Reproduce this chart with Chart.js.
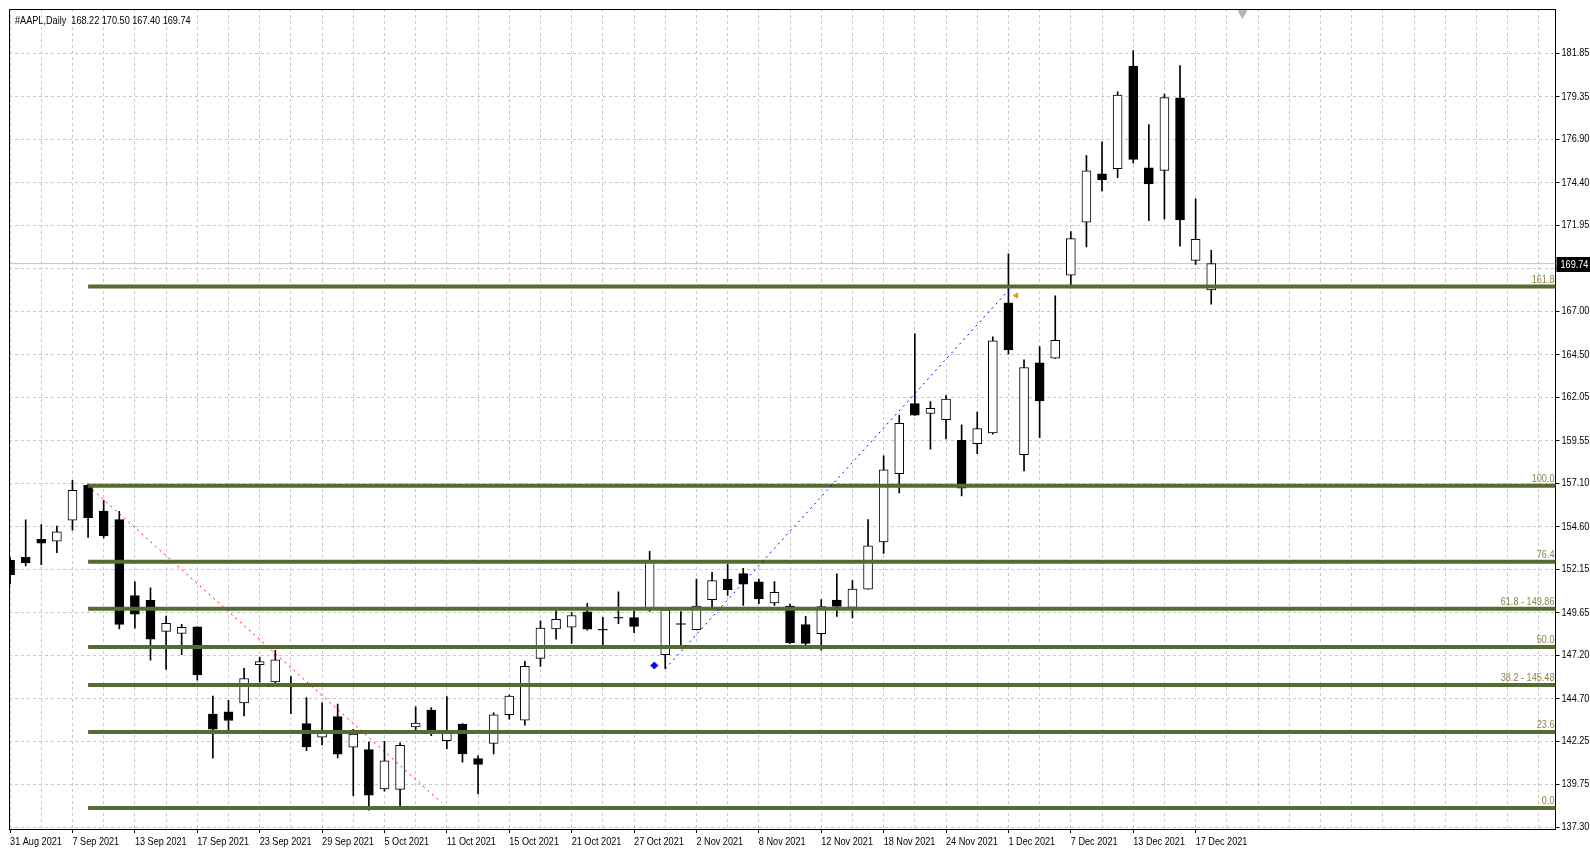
<!DOCTYPE html>
<html>
<head>
<meta charset="utf-8">
<script src="https://cdn.jsdelivr.net/npm/chart.js@4.4.0/dist/chart.umd.min.js"></script>
<style>
    html, body { margin: 0; padding: 0; background: #fff; overflow: hidden; }
    canvas { display: block; }
</style>
</head>
<body>
<canvas id="chart" width="1590" height="852"></canvas>
<script>
// AAPL daily bars, 31 Aug 2021 - 20 Dec 2021
const dates = [
    '31 Aug 2021', '1 Sep 2021', '2 Sep 2021', '3 Sep 2021', '7 Sep 2021', '8 Sep 2021', '9 Sep 2021', '10 Sep 2021',
    '13 Sep 2021', '14 Sep 2021', '15 Sep 2021', '16 Sep 2021', '17 Sep 2021', '20 Sep 2021', '21 Sep 2021', '22 Sep 2021',
    '23 Sep 2021', '24 Sep 2021', '27 Sep 2021', '28 Sep 2021', '29 Sep 2021', '30 Sep 2021', '1 Oct 2021', '4 Oct 2021',
    '5 Oct 2021', '6 Oct 2021', '7 Oct 2021', '8 Oct 2021', '11 Oct 2021', '12 Oct 2021', '13 Oct 2021', '14 Oct 2021',
    '15 Oct 2021', '18 Oct 2021', '19 Oct 2021', '20 Oct 2021', '21 Oct 2021', '22 Oct 2021', '25 Oct 2021', '26 Oct 2021',
    '27 Oct 2021', '28 Oct 2021', '29 Oct 2021', '1 Nov 2021', '2 Nov 2021', '3 Nov 2021', '4 Nov 2021', '5 Nov 2021',
    '8 Nov 2021', '9 Nov 2021', '10 Nov 2021', '11 Nov 2021', '12 Nov 2021', '15 Nov 2021', '16 Nov 2021', '17 Nov 2021',
    '18 Nov 2021', '19 Nov 2021', '22 Nov 2021', '23 Nov 2021', '24 Nov 2021', '26 Nov 2021', '29 Nov 2021', '30 Nov 2021',
    '1 Dec 2021', '2 Dec 2021', '3 Dec 2021', '6 Dec 2021', '7 Dec 2021', '8 Dec 2021', '9 Dec 2021', '10 Dec 2021',
    '13 Dec 2021', '14 Dec 2021', '15 Dec 2021', '16 Dec 2021', '17 Dec 2021', '20 Dec 2021'
];
const opens = [
    152.66, 152.83, 153.87, 153.76, 154.97, 156.98, 155.49, 155.00, 150.63, 150.35,
    148.56, 148.44, 148.82, 143.80, 143.93, 144.45, 146.65, 145.66, 145.47, 143.25,
    142.47, 143.66, 141.90, 141.76, 139.49, 139.47, 143.06, 144.03, 142.27, 143.23,
    141.24, 142.11, 143.77, 143.45, 147.01, 148.70, 148.81, 149.69, 148.68, 149.33,
    149.36, 149.82, 147.22, 148.99, 148.66, 150.39, 151.58, 151.89, 151.41, 150.20,
    150.02, 148.96, 148.43, 150.37, 149.94, 151.00, 153.71, 157.65, 161.68, 161.12,
    160.75, 159.57, 159.37, 159.99, 167.48, 158.74, 164.02, 164.29, 169.08, 172.13,
    174.91, 175.21, 181.12, 175.25, 175.11, 179.28, 169.93, 168.22
];
const highs = [
    152.80, 154.98, 154.72, 154.63, 157.26, 157.04, 156.11, 155.48, 151.42, 151.07,
    149.44, 148.97, 148.82, 144.84, 144.60, 146.43, 147.08, 147.47, 145.96, 144.75,
    144.45, 144.38, 142.92, 142.21, 142.24, 142.15, 144.22, 144.18, 144.81, 143.25,
    141.40, 143.88, 144.90, 146.84, 149.17, 149.75, 149.64, 150.18, 149.37, 150.84,
    149.73, 153.17, 149.94, 149.70, 151.57, 151.97, 152.43, 152.20, 151.57, 151.43,
    150.13, 149.43, 150.40, 151.88, 151.49, 155.00, 158.67, 161.02, 165.70, 161.80,
    162.14, 160.45, 161.19, 165.52, 170.30, 164.20, 164.96, 167.88, 171.58, 175.96,
    176.75, 179.63, 182.00, 177.74, 179.50, 181.14, 173.47, 170.50
];
const lows = [
    151.29, 152.34, 152.40, 153.09, 154.39, 153.98, 153.95, 148.70, 148.75, 146.91,
    146.37, 147.22, 145.76, 141.27, 142.78, 143.70, 145.64, 145.56, 143.82, 141.69,
    142.03, 141.28, 139.11, 138.27, 139.36, 138.37, 142.72, 142.56, 141.81, 141.04,
    139.20, 141.51, 143.51, 143.16, 146.55, 148.12, 147.87, 148.64, 147.62, 149.01,
    148.49, 149.72, 146.41, 147.80, 148.65, 149.82, 150.64, 150.06, 150.16, 150.06,
    147.85, 147.68, 147.48, 149.43, 149.34, 150.99, 153.05, 156.53, 161.00, 159.06,
    159.64, 156.36, 158.79, 159.92, 164.53, 157.80, 159.72, 164.28, 168.34, 170.70,
    173.92, 174.69, 175.53, 172.21, 172.31, 170.75, 169.69, 167.40
];
const closes = [
    151.83, 152.51, 153.65, 154.30, 156.69, 155.11, 154.07, 148.97, 149.55, 148.12,
    149.03, 148.79, 146.06, 142.94, 143.43, 145.85, 146.83, 146.92, 145.37, 141.91,
    142.83, 141.50, 142.65, 139.14, 141.11, 142.00, 143.29, 142.90, 142.81, 141.51,
    140.91, 143.76, 144.84, 146.55, 148.76, 149.26, 149.48, 148.69, 148.64, 149.32,
    148.85, 152.57, 149.80, 148.96, 150.02, 151.49, 150.96, 151.28, 150.44, 150.81,
    147.92, 147.87, 149.99, 150.00, 151.00, 153.49, 157.87, 160.55, 161.02, 161.41,
    161.94, 156.81, 160.24, 165.30, 164.77, 163.76, 161.84, 165.32, 171.18, 175.08,
    174.56, 179.45, 175.74, 174.33, 179.30, 172.26, 171.14, 169.74
];

// price axis labels as shown on the right
const yTicks = [137.30, 139.75, 142.25, 144.70, 147.20, 149.65, 152.15, 154.60, 157.10, 159.55,
    162.05, 164.50, 167.00, 169.45, 171.95, 174.40, 176.90, 179.35, 181.85];

// fibonacci levels (price) and their captions
const fibPrices = [138.39, 142.77, 145.48, 147.67, 149.86, 152.57, 156.95, 168.42];
const fibLabels = ['0.0', '23.6', '38.2 - 145.48', '50.0', '61.8 - 149.86', '76.4', '100.0', '161.8'];
const fibStart = 5;

// dotted trend lines [barIndex, price]
const redTrend = [[5, 156.95], [27.66, 138.7]];
const blueTrend = [[42, 146.41], [64.1, 168.3]];

const lastBar = [168.22, 170.50, 167.40, 169.74];
const fontFamily = "'Liberation Sans', Arial, sans-serif";
const textScale = 0.83;   // MT4 style narrow lettering

document.addEventListener('DOMContentLoaded', () => {
    const idx = dates.map((d, i) => i);
    const gridIdx = [];
    for (let i = 0; i <= 98; i += 2) gridIdx.push(i);

    const isLabelTick = v => v % 4 === 0 && v < dates.length;

    // narrow text helper
    function narrow(ctx, text, x, y, align) {
        ctx.save();
        ctx.translate(x, y);
        ctx.scale(textScale, 1);
        ctx.textAlign = align;
        ctx.fillText(text, 0, 0);
        ctx.restore();
    }

    // labels, frame and price marker on top of the chart
    const overlay = {
        id: 'overlay',
        afterDatasetsDraw(chart) {
            const { ctx, chartArea: a, scales: { y } } = chart;
            ctx.save();
            ctx.font = '11px ' + fontFamily;
            ctx.fillStyle = '#878749';
            ctx.textBaseline = 'alphabetic';
            fibPrices.forEach((p, k) => {
                narrow(ctx, fibLabels[k], a.right - 1, y.getPixelForValue(p) - 4, 'right');
            });
            ctx.restore();
        },
        afterDraw(chart) {
            const { ctx, chartArea: a, scales: { x, y } } = chart;
            ctx.save();
            ctx.strokeStyle = '#000';
            ctx.lineWidth = 1;
            ctx.beginPath();
            ctx.moveTo(Math.round(a.left) + 0.5, a.bottom);
            ctx.lineTo(Math.round(a.left) + 0.5, Math.round(a.top) + 0.5);
            ctx.lineTo(a.right, Math.round(a.top) + 0.5);
            ctx.stroke();

            ctx.font = '11px ' + fontFamily;
            ctx.fillStyle = '#000';
            ctx.textBaseline = 'alphabetic';
            narrow(ctx, '#AAPL,Daily  ' + lastBar.map(v => v.toFixed(2)).join(' '), a.left + 6, a.top + 15, 'left');

            // axis labels
            ctx.textBaseline = 'middle';
            y.ticks.forEach(t => {
                narrow(ctx, t.value.toFixed(2), a.right + 6, y.getPixelForValue(t.value), 'left');
            });
            x.ticks.forEach(t => {
                if (isLabelTick(t.value)) narrow(ctx, dates[t.value], x.getPixelForValue(t.value), a.bottom + 13, 'left');
            });

            // last price box
            const py = Math.round(y.getPixelForValue(lastBar[3]));
            ctx.fillStyle = '#000';
            ctx.fillRect(a.right + 1, py - 7, 35, 15);
            ctx.fillStyle = '#fff';
            narrow(ctx, lastBar[3].toFixed(2), a.right + 5, py + 1, 'left');
            ctx.restore();
        }
    };

    const fibSets = fibPrices.map(p => ({
        type: 'line',
        data: [{ x: fibStart, y: p }, { x: 100, y: p }],
        borderColor: '#556b2f',
        borderWidth: 4,
        borderCapStyle: 'butt',
        pointRadius: 0,
        clip: 0,
        order: 1
    }));

    const ctx = document.getElementById('chart').getContext('2d');
    new Chart(ctx, {
        type: 'bar',
        data: {
            datasets: [
                {
                    type: 'line',
                    data: [{ x: -1, y: lastBar[3] }, { x: 100, y: lastBar[3] }],
                    borderColor: '#c0c0c0',
                    borderWidth: 1,
                    pointRadius: 0,
                    clip: 0,
                    order: 6
                },
                {
                    type: 'bar',
                    data: idx.map(i => ({ x: i, y: [lows[i], highs[i]] })),
                    backgroundColor: '#000',
                    barThickness: 1,
                    grouped: false,
                    clip: 0,
                    order: 3
                },
                {
                    type: 'bar',
                    data: idx.map(i => ({ x: i, y: [opens[i], closes[i]] })),
                    backgroundColor: idx.map(i => closes[i] >= opens[i] ? '#fff' : '#000'),
                    borderColor: '#000',
                    borderWidth: 1,
                    borderSkipped: false,
                    barThickness: 9,
                    minBarLength: 1,
                    grouped: false,
                    clip: 0,
                    order: 2
                },
                ...fibSets,
                {
                    type: 'line',
                    data: redTrend.map(p => ({ x: p[0], y: p[1] })),
                    borderColor: '#ff0000',
                    borderWidth: 1,
                    borderDash: [2, 4],
                    pointRadius: 0,
                    order: 0
                },
                {
                    type: 'line',
                    data: blueTrend.map(p => ({ x: p[0], y: p[1] })),
                    borderColor: '#0000ff',
                    borderWidth: 1,
                    borderDash: [2, 4],
                    pointRadius: 0,
                    order: 0
                },
                {
                    type: 'line',
                    data: [{ x: 41.3, y: 146.6 }],
                    showLine: false,
                    pointStyle: 'rectRot',
                    pointRadius: 3.5,
                    pointBackgroundColor: '#0000ff',
                    pointBorderColor: '#0000ff',
                    order: 0
                },
                {
                    type: 'line',
                    data: [{ x: 64.5, y: 167.9 }],
                    showLine: false,
                    pointStyle: 'triangle',
                    rotation: 270,
                    pointRadius: 3,
                    pointBackgroundColor: '#e0a020',
                    pointBorderColor: '#e0a020',
                    order: 0
                },
                {
                    type: 'line',
                    data: [{ x: 79, y: 184.15 }],
                    showLine: false,
                    pointStyle: 'triangle',
                    rotation: 180,
                    pointRadius: 5,
                    pointBackgroundColor: '#b4b4b4',
                    pointBorderColor: '#b4b4b4',
                    clip: false,
                    order: 0
                }
            ]
        },
        options: {
            responsive: false,
            animation: false,
            devicePixelRatio: 1,
            layout: { padding: { left: 9, top: 9, right: 0, bottom: 0 } },
            plugins: {
                legend: { display: false },
                tooltip: { enabled: false }
            },
            scales: {
                x: {
                    type: 'linear',
                    min: -0.07,
                    max: 99.07,
                    offset: false,
                    afterBuildTicks: s => { s.ticks = gridIdx.map(v => ({ value: v })); },
                    afterFit: s => { s.height = 23; },
                    grid: {
                        offset: false,
                        color: '#c8c8c8',
                        lineWidth: 1,
                        tickLength: 4,
                        tickWidth: 1,
                        tickBorderDash: [],
                        tickColor: c => (c.tick && isLabelTick(c.tick.value)) ? '#000' : 'rgba(0,0,0,0)'
                    },
                    border: { display: true, color: '#000', width: 1, dash: [3, 3] },
                    ticks: { display: false, autoSkip: false, maxRotation: 0 }
                },
                y: {
                    type: 'linear',
                    position: 'right',
                    min: 137.185,
                    max: 184.40,
                    beginAtZero: false,
                    afterBuildTicks: s => { s.ticks = yTicks.map(v => ({ value: v })); },
                    afterFit: s => { s.width = 34.5; },
                    grid: {
                        color: '#c8c8c8',
                        lineWidth: 1,
                        tickLength: 4,
                        tickColor: '#000',
                        tickBorderDash: []
                    },
                    border: { display: true, color: '#000', width: 1, dash: [3, 3] },
                    ticks: { display: false }
                }
            }
        },
        plugins: [overlay]
    });
});
</script>
</body>
</html>
